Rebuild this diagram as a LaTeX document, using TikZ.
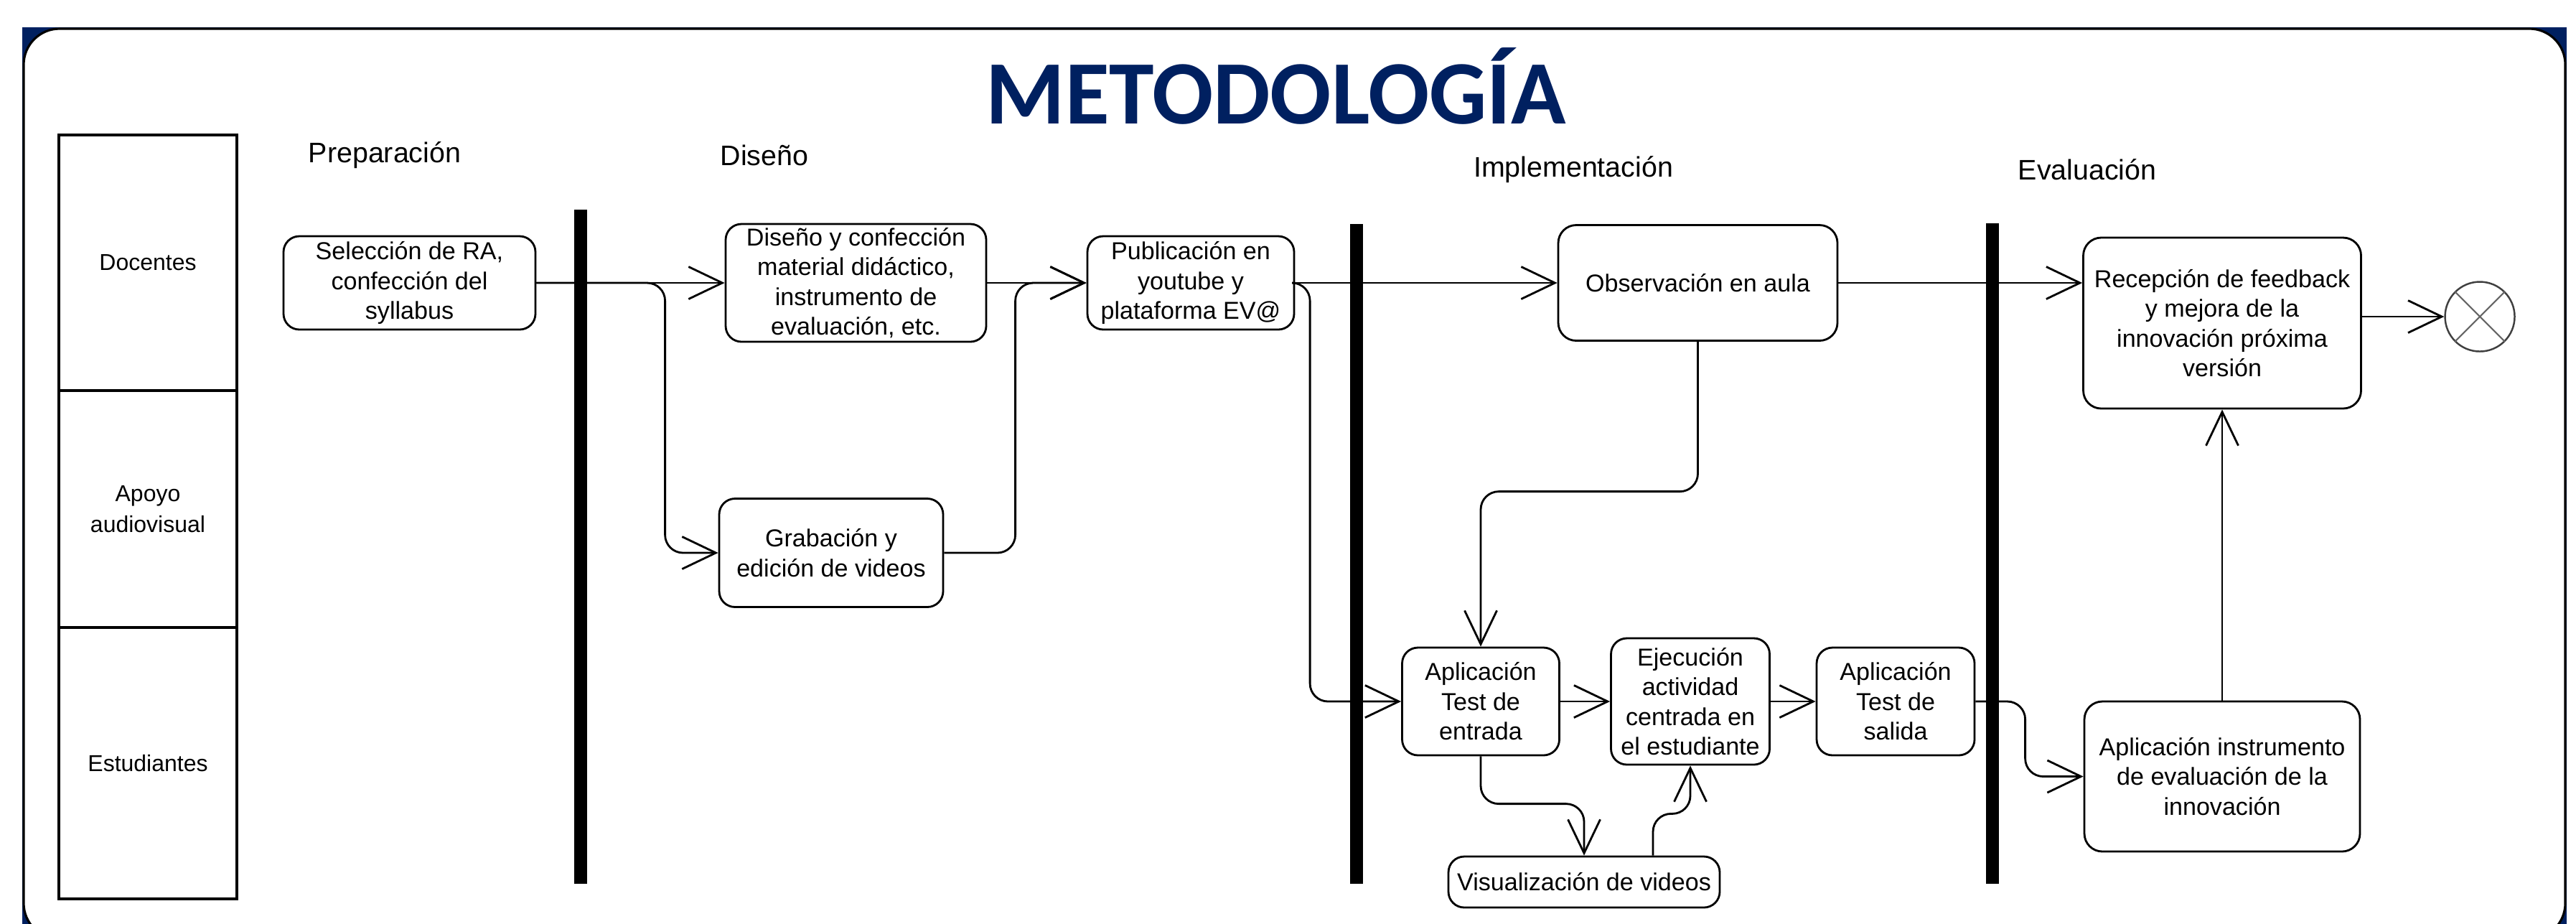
\documentclass[tikz,border=0pt]{standalone}
\usepackage{fontspec}
\setmainfont{Liberation Sans}
\newfontfamily\titlefont{Carlito}
\usepackage{xcolor}
\usetikzlibrary{arrows.meta}
\definecolor{navy}{RGB}{0,32,96}

\begin{document}
\begin{tikzpicture}[
    box/.style={
        rectangle,
        draw,
        line width=0.8pt,
        rounded corners=0.22cm,
        align=center,
        inner sep=0pt,
        font=\fontsize{9.7}{11.8}\selectfont
    },
    lane/.style={
        rectangle,
        draw,
        line width=0.95pt,
        minimum width=2.48cm,
        align=center,
        font=\fontsize{9.1}{12.2}\selectfont
    },
    fase/.style={font=\fontsize{11.2}{13}\selectfont},
    forkbar/.style={fill=black, inner sep=0pt, minimum width=0.18cm},
    arrow/.style={-{Straight Barb[length=0.47cm, width=0.45cm]}, line width=0.8pt},
    elbow/.style={arrow, rounded corners=0.25cm}
]
\useasboundingbox (0,0) rectangle (35.89,-12.86);

% marco
\fill[navy] (0.31,-0.38) rectangle (35.76,-13.1);
\filldraw[fill=white, draw=black, line width=0.9pt, rounded corners=0.5cm] (0.33,-0.40) rectangle (35.74,-13.08);

\node[font=\titlefont\bfseries\fontsize{35.9}{40}\selectfont, text=navy, anchor=base] (titulo) at (17.78,-1.72) {METODOLOGÍA};

% carriles
\node[lane, minimum height=3.56cm] (docentes) at (2.06,-3.66) {Docentes};
\node[lane, minimum height=3.30cm] (apoyo) at (2.06,-7.09) {Apoyo\\audiovisual};
\node[lane, minimum height=3.78cm] (estudiantes) at (2.06,-10.63) {Estudiantes};

% fases
\node[fase] (prep) at (5.36,-2.16) {Preparación};
\node[fase] (disen) at (10.65,-2.16) {Diseño};
\node[fase] (impl) at (21.92,-2.36) {Implementación};
\node[fase] (eval) at (29.08,-2.36) {Evaluación};

% actividades
\node[box, minimum width=3.51cm, minimum height=1.30cm] (sel) at (5.705,-3.94) {Selección de RA,\\confección del\\syllabus};
\node[box, minimum width=3.63cm, minimum height=1.64cm] (dis) at (11.925,-3.94) {Diseño y confección\\material didáctico,\\instrumento de\\evaluación, etc.};
\node[box, minimum width=3.12cm, minimum height=1.51cm] (grab) at (11.58,-7.70) {Grabación y\\edición de videos};
\node[box, minimum width=2.88cm, minimum height=1.30cm] (pub) at (16.59,-3.94) {Publicación en\\youtube y\\plataforma EV@};
\node[box, minimum width=3.89cm, minimum height=1.61cm, rounded corners=0.25cm] (obs) at (23.655,-3.94) {Observación en aula};
\node[box, minimum width=2.19cm, minimum height=1.50cm] (apl1) at (20.63,-9.77) {Aplicación\\Test de\\entrada};
\node[box, minimum width=2.21cm, minimum height=1.76cm] (ejec) at (23.55,-9.77) {Ejecución\\actividad\\centrada en\\el estudiante};
\node[box, minimum width=2.20cm, minimum height=1.50cm] (apl2) at (26.41,-9.77) {Aplicación\\Test de\\salida};
\node[box, minimum width=3.78cm, minimum height=0.71cm] (vis) at (22.07,-12.285) {Visualización de videos};
\node[box, minimum width=3.84cm, minimum height=2.09cm, rounded corners=0.25cm] (instr) at (30.96,-10.815) {Aplicación instrumento\\de evaluación de la\\innovación};
\node[box, minimum width=3.87cm, minimum height=2.38cm, rounded corners=0.25cm] (rec) at (30.96,-4.50) {Recepción de feedback\\y mejora de la\\innovación próxima\\versión};
\node[circle, draw=black!75, line width=0.7pt, minimum size=0.97cm, inner sep=0pt] (fin) at (34.55,-4.41) {};
\draw[black!60, line width=0.6pt] (fin.north west) -- (fin.south east) (fin.north east) -- (fin.south west);

% barras
\node[forkbar, minimum height=9.39cm] (fork1) at (8.09,-7.615) {};
\node[forkbar, minimum height=9.19cm] (fork2) at (18.90,-7.715) {};
\node[forkbar, minimum height=9.20cm] (fork3) at (27.76,-7.71) {};

\draw[arrow] (sel) -- (dis);
\draw[elbow] (sel.east) -| ([xshift=-0.74cm]grab.west) -- (grab.west);
\draw[arrow] (dis) -- (pub);
\draw[elbow] (grab.east) -| ([xshift=-0.99cm]pub.west) -- (pub.west);
\draw[arrow] (pub) -- (obs);
\draw[elbow] (pub.east) -| ([xshift=-1.27cm]apl1.west) -- (apl1.west);
\draw[elbow] (obs.south) |- ([yshift=2.16cm]apl1.north) -- (apl1.north);
\draw[arrow] (apl1) -- (ejec);
\draw[elbow] (apl1.south) |- ([yshift=0.72cm]vis.north) -- (vis.north);
\draw[elbow] ([xshift=0.96cm]vis.north) |- ([yshift=-0.67cm]ejec.south) -- (ejec.south);
\draw[arrow] (ejec) -- (apl2);
\draw[elbow] (apl2.east) -| ([xshift=-0.81cm]instr.west) -- (instr.west);
\draw[arrow] (obs.east) -- (obs.east -| rec.west);
\draw[arrow] (instr) -- (rec);
\draw[arrow] (rec.east |- fin) -- (fin);

\end{tikzpicture}
\end{document}
